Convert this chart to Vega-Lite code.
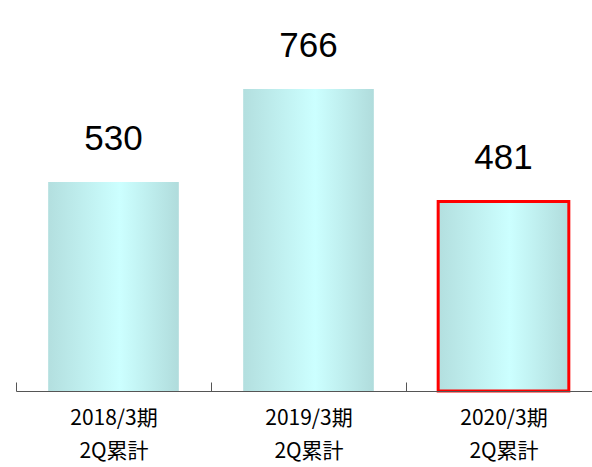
{
  "$schema": "https://vega.github.io/schema/vega-lite/v6.json",
  "width": 585,
  "height": 391,
  "autosize": {"type": "none"},
  "padding": {"left": 16, "top": 0, "right": 0, "bottom": 76},
  "background": "white",
  "config": {"view": {"stroke": null}},
  "data": {
    "values": [
      {"period": "2018/3期 2Q累計", "value": 530},
      {"period": "2019/3期 2Q累計", "value": 766},
      {"period": "2020/3期 2Q累計", "value": 481}
    ]
  },
  "encoding": {
    "x": {
      "field": "period",
      "type": "nominal",
      "sort": null,
      "scale": {"paddingInner": 0, "paddingOuter": 0},
      "axis": {
        "title": null,
        "labelAngle": 0,
        "labelExpr": "split(datum.label, ' ')",
        "labelFont": "Noto Sans CJK JP",
        "labelFontSize": 21,
        "labelColor": "#000000",
        "labelLineHeight": 33,
        "labelPadding": 25,
        "labelBaseline": "top",
        "tickBand": "extent",
        "tickSize": -9,
        "tickColor": "#555555",
        "domainColor": "#555555",
        "grid": false,
        "zindex": 1
      }
    },
    "y": {
      "field": "value",
      "type": "quantitative",
      "scale": {"domain": [0, 992]},
      "axis": null
    }
  },
  "layer": [
    {
      "mark": {
        "type": "bar",
        "width": {"band": 0.67},
        "color": {
          "gradient": "linear",
          "x1": 0, "y1": 0, "x2": 1, "y2": 0,
          "stops": [
            {"offset": 0, "color": "#b3dfdf"},
            {"offset": 0.55, "color": "#ccffff"},
            {"offset": 1, "color": "#b0dcdc"}
          ]
        },
        "stroke": "#ff0000"
      },
      "encoding": {
        "strokeWidth": {
          "condition": {"test": "datum.period === '2020/3期 2Q累計'", "value": 3},
          "value": 0
        }
      }
    },
    {
      "mark": {
        "type": "text",
        "font": "Liberation Sans",
        "fontSize": 35,
        "color": "#000000",
        "baseline": "alphabetic",
        "dy": -32
      },
      "encoding": {
        "text": {"field": "value", "type": "quantitative"}
      }
    }
  ]
}
